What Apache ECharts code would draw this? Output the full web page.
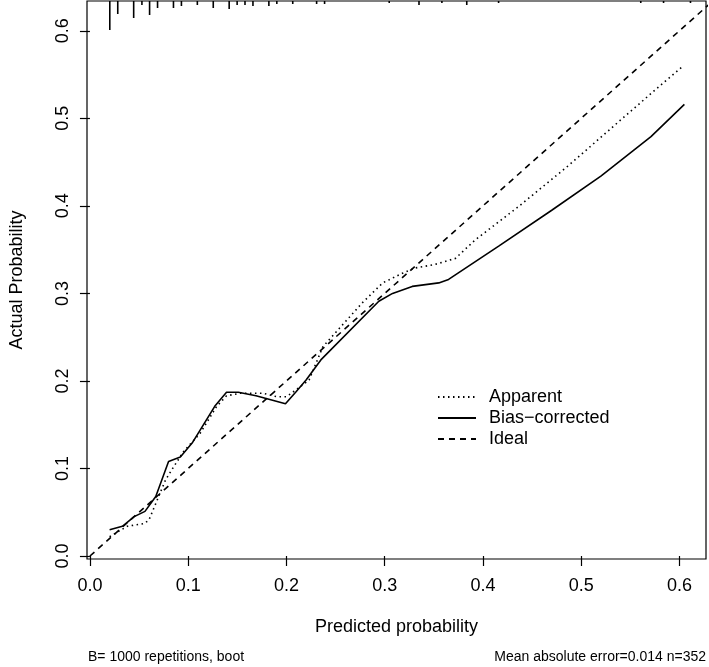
<!DOCTYPE html>
<html>
<head>
<meta charset="utf-8">
<script src="https://cdn.jsdelivr.net/npm/echarts@6/dist/echarts.min.js"></script>
<style>
html,body{margin:0;padding:0;background:#fff;}
#chart{width:709px;height:667px;}
</style>
</head>
<body>
<div id="chart"></div>
<script>
// ---- data ----
var xTicks = [0, 0.1, 0.2, 0.3, 0.4, 0.5, 0.6];
var yTicks = [0, 0.1, 0.2, 0.3, 0.4, 0.5, 0.6];

var apparentX = [0.020, 0.026, 0.038, 0.055, 0.060, 0.067, 0.077, 0.083, 0.095, 0.112, 0.129, 0.139, 0.153, 0.176, 0.190, 0.200, 0.210, 0.223, 0.237, 0.277, 0.298, 0.318, 0.331, 0.351, 0.372, 0.392, 0.436, 0.486, 0.537, 0.581, 0.604];
var apparentY = [0.022, 0.026, 0.034, 0.037, 0.041, 0.060, 0.087, 0.098, 0.119, 0.140, 0.171, 0.183, 0.186, 0.186, 0.182, 0.182, 0.190, 0.201, 0.239, 0.289, 0.312, 0.323, 0.329, 0.333, 0.340, 0.361, 0.399, 0.445, 0.495, 0.538, 0.560];

var biasX = [0.020, 0.033, 0.045, 0.056, 0.067, 0.080, 0.092, 0.104, 0.127, 0.139, 0.151, 0.169, 0.199, 0.210, 0.220, 0.235, 0.294, 0.308, 0.328, 0.355, 0.365, 0.416, 0.470, 0.520, 0.571, 0.605];
var biasY = [0.030, 0.034, 0.045, 0.051, 0.068, 0.108, 0.113, 0.129, 0.171, 0.187, 0.187, 0.183, 0.174, 0.188, 0.201, 0.224, 0.291, 0.300, 0.308, 0.312, 0.316, 0.354, 0.395, 0.434, 0.479, 0.516];

var idealX = [0, 0.64];
var idealY = [0, 0.64];

// rug of predicted probabilities (positions and relative frequencies)
var rugX = [0.0202, 0.0283, 0.0445, 0.0529, 0.0607, 0.0688, 0.0850, 0.0931, 0.1093, 0.1255, 0.1417, 0.1498, 0.1578, 0.1659, 0.1821, 0.1902, 0.2064, 0.2307, 0.2388, 0.3046, 0.3349, 0.3582, 0.3835, 0.4159, 0.5606, 0.5838, 0.6112];
var rugFreq = [29, 13, 17, 4, 14, 7, 7, 5, 4, 7, 8, 4, 4, 5, 5, 3, 3, 3, 3, 2, 4, 2, 4, 2, 2, 2, 2];

var seriesNames = ['Apparent', 'Bias\u2212corrected', 'Ideal'];
var xTitle = 'Predicted probability';
var yTitle = 'Actual Probability';
var noteLeft = 'B= 1000 repetitions, boot';
var noteRight = 'Mean absolute error=0.014 n=352';

function zip(a, b) { return a.map(function (v, i) { return [v, b[i]]; }); }

var FONT = '"Liberation Sans", Arial, sans-serif';
var chart = echarts.init(document.getElementById('chart'), null, { renderer: 'canvas' });

var option = {
  backgroundColor: '#fff',
  animation: false,
  textStyle: { fontFamily: FONT, color: '#000' },
  grid: { left: 83, right: 3, top: 1, bottom: 108, show: true, borderColor: '#000', borderWidth: 1.2, backgroundColor: 'transparent' },
  xAxis: {
    type: 'value', min: -0.003, max: 0.627,
    name: xTitle, nameLocation: 'middle', nameGap: 59,
    nameTextStyle: { fontSize: 18, color: '#000', fontFamily: FONT },
    axisLine: { show: false },
    splitLine: { show: false },
    axisTick: { show: true, inside: false, length: 10, customValues: xTicks, lineStyle: { color: '#000', width: 1.2 } },
    axisLabel: { customValues: xTicks, fontSize: 18, color: '#000', margin: 18, fontFamily: FONT,
      formatter: function (v) { return v.toFixed(1); } }
  },
  yAxis: {
    type: 'value', min: -0.0034, max: 0.634,
    name: yTitle, nameLocation: 'middle', nameGap: 61, nameRotate: 90,
    nameTextStyle: { fontSize: 18, color: '#000', fontFamily: FONT },
    axisLine: { show: false },
    splitLine: { show: false },
    axisTick: { show: true, inside: false, length: 10, customValues: yTicks, lineStyle: { color: '#000', width: 1.2 } },
    axisLabel: { customValues: yTicks, fontSize: 18, color: '#000', margin: 15, rotate: 90, fontFamily: FONT,
      formatter: function (v) { return v.toFixed(1); } }
  },
  legend: {
    orient: 'vertical', left: 432, top: 383, itemGap: 3, itemWidth: 38, itemHeight: 18,
    itemStyle: { opacity: 0, borderWidth: 0 },
    textStyle: { fontSize: 18, color: '#000', fontFamily: FONT, padding: [0, 0, 0, 8] },
    data: seriesNames
  },
  series: [
    {
      name: seriesNames[0], type: 'line', data: zip(apparentX, apparentY), symbol: 'none',
      lineStyle: { color: '#000', width: 1.6, type: [1.5, 3.5] }, itemStyle: { color: '#000' }
    },
    {
      name: seriesNames[1], type: 'line', data: zip(biasX, biasY), symbol: 'none',
      lineStyle: { color: '#000', width: 1.6, type: 'solid' }, itemStyle: { color: '#000' }
    },
    {
      name: seriesNames[2], type: 'line', data: zip(idealX, idealY), symbol: 'none', clip: true,
      lineStyle: { color: '#000', width: 1.6, type: [6, 5] }, itemStyle: { color: '#000' }
    },
    {
      name: 'rug', type: 'custom', data: zip(rugX, rugFreq), encode: { x: 0, y: 1 }, silent: true,
      renderItem: function (params, api) {
        var px = api.coord([api.value(0), 0])[0];
        var top = params.coordSys.y;
        var len = api.value(1);
        return { type: 'line', shape: { x1: px, y1: top, x2: px, y2: top + len },
          style: { stroke: '#000', lineWidth: 1.6 } };
      }
    }
  ],
  graphic: [
    { type: 'text', left: 88, top: 650, style: { text: noteLeft, fontSize: 14, fill: '#000', fontFamily: FONT } },
    { type: 'text', right: 3, top: 650, style: { text: noteRight, fontSize: 14, fill: '#000', fontFamily: FONT } }
  ]
};
chart.setOption(option);
</script>
</body>
</html>
